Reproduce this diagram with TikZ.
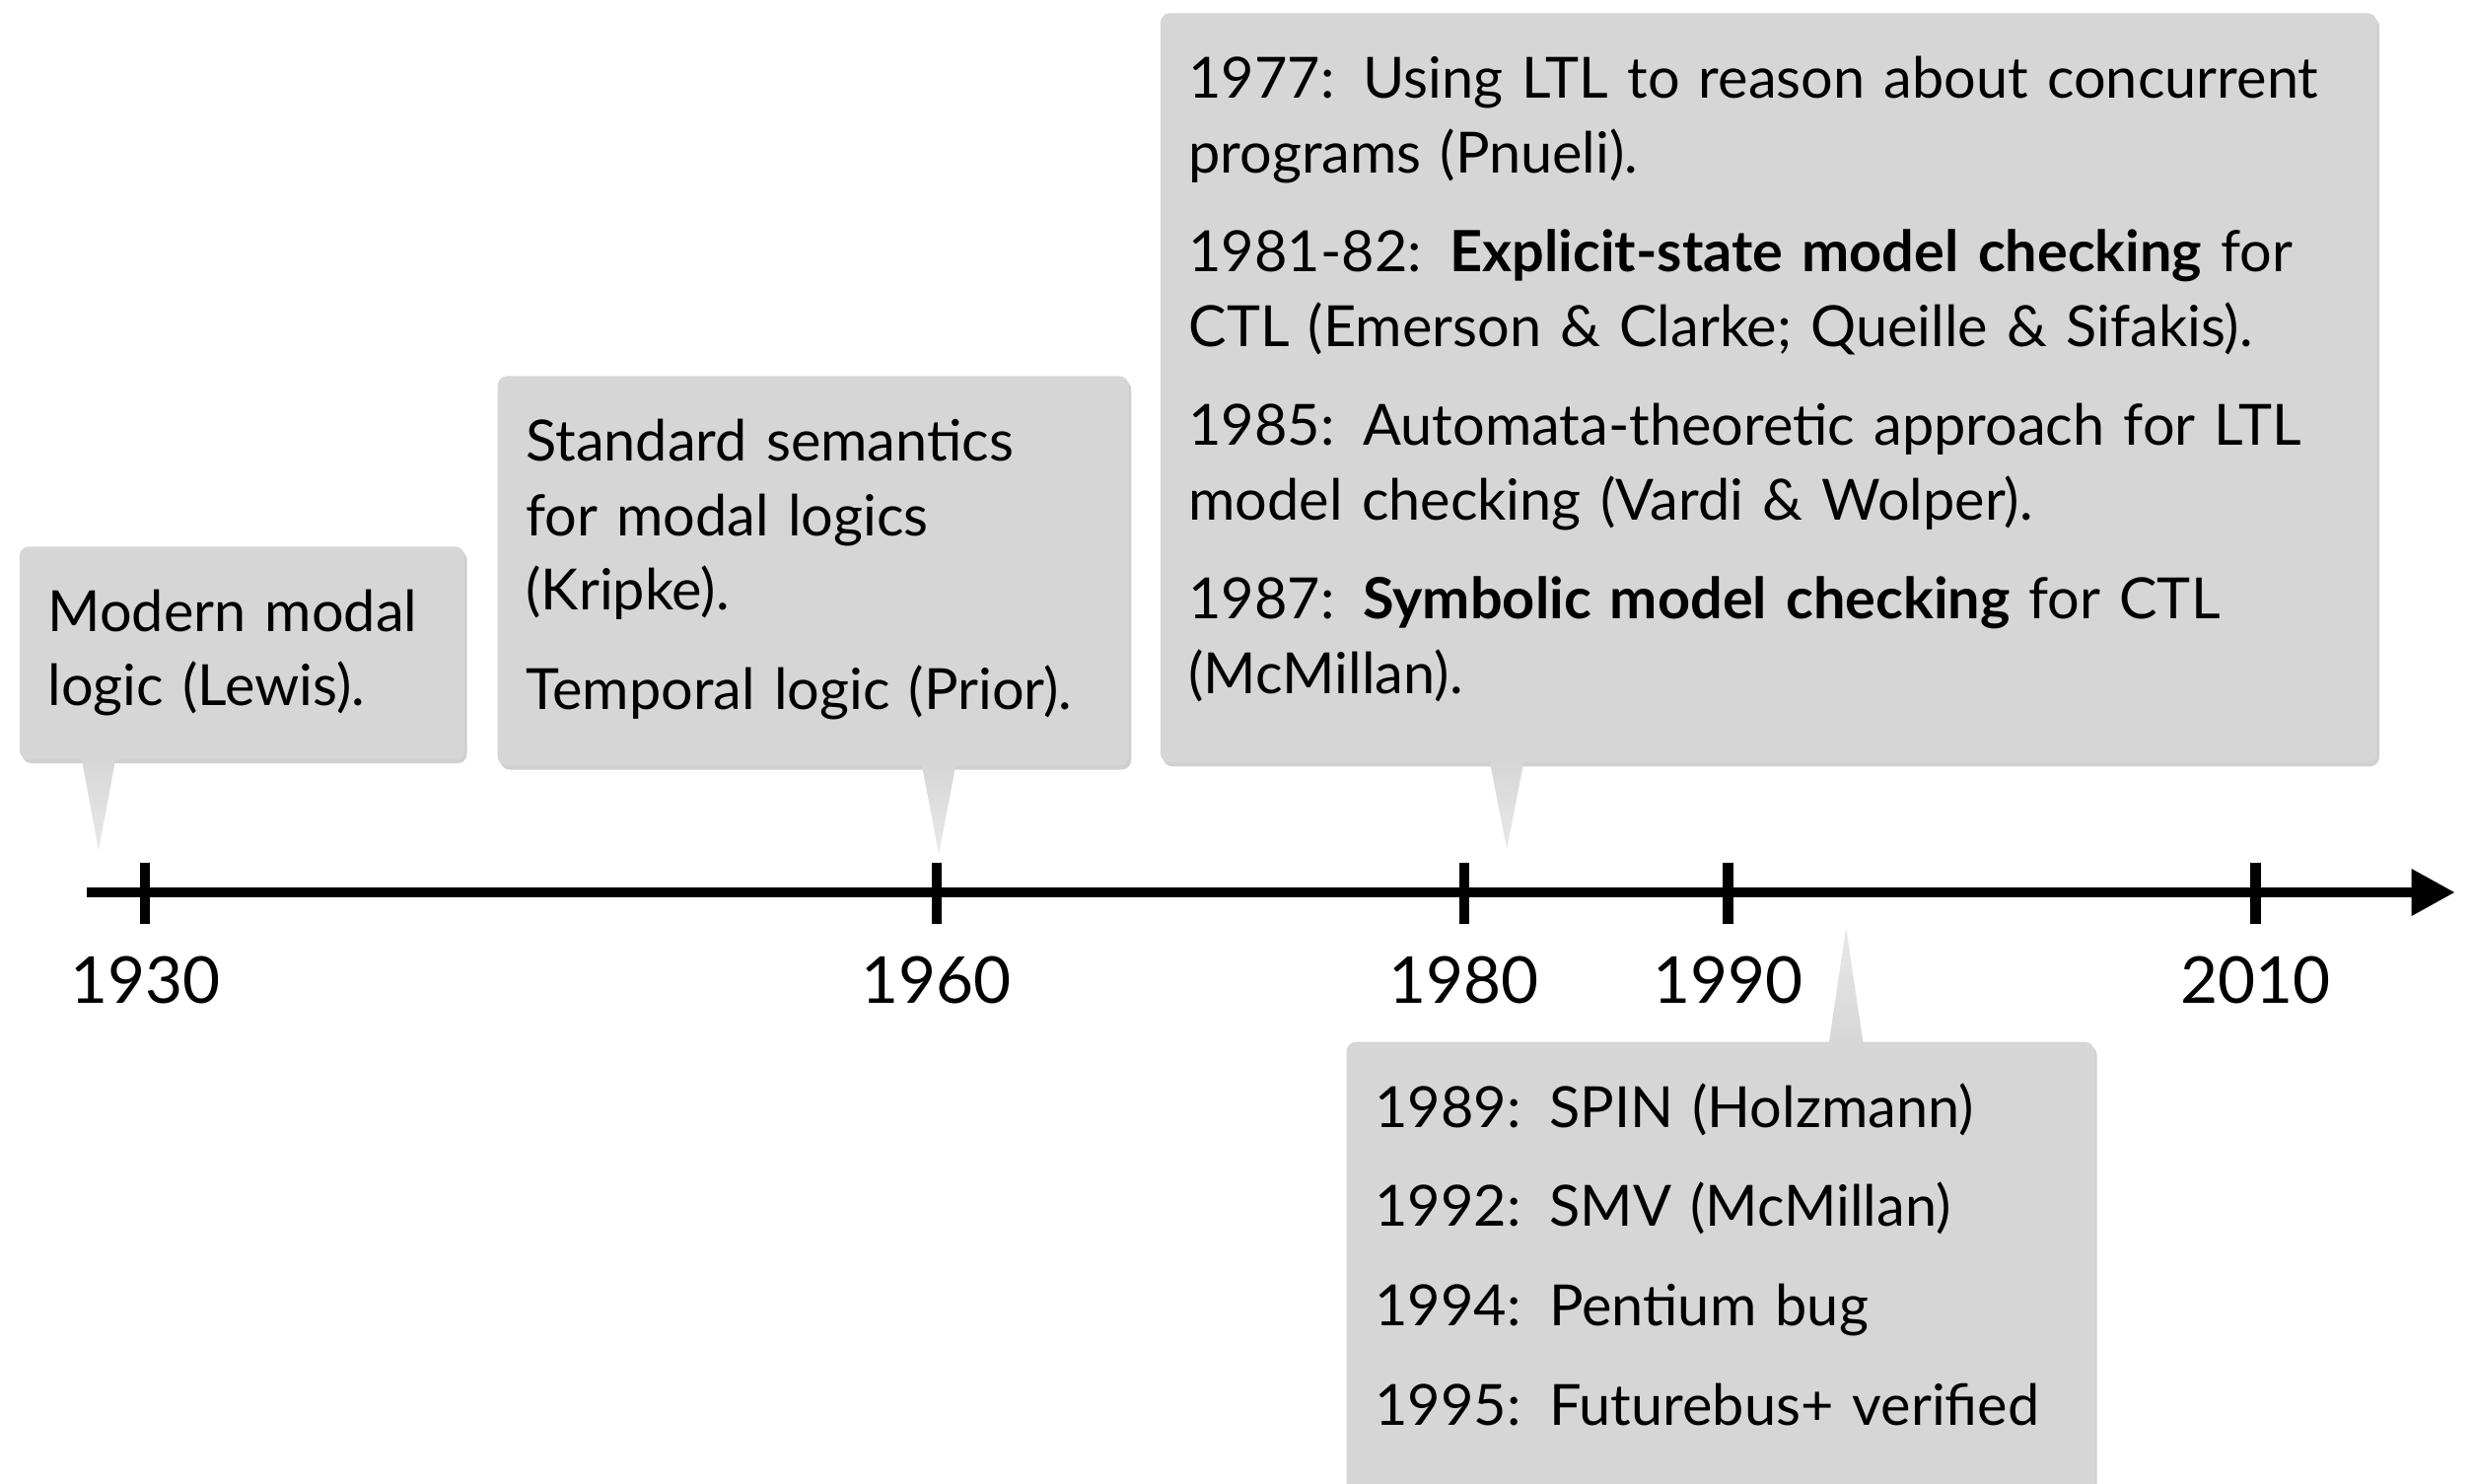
\documentclass[tikz,border=0pt]{standalone}
\usepackage{fontspec}
\setmainfont{Lato}
\usetikzlibrary{arrows.meta,positioning,calc,shadows}
\definecolor{bubblegray}{RGB}{214,214,214}
\tikzset{
  bubble/.style={
    rectangle,
    rounded corners=3pt,
    fill=bubblegray,
    drop shadow={shadow xshift=0.8pt, shadow yshift=-1.2pt, opacity=0.3, fill=black!60},
    anchor=north west,
    align=left,
    inner xsep=9pt,
    inner ysep=0pt,
    text height=27pt,
    font=\fontsize{18}{23.5}\selectfont
  },
  pointer/.style={
    top color=bubblegray,
    bottom color=bubblegray!55
  },
  uppointer/.style={
    top color=bubblegray!55,
    bottom color=bubblegray
  },
  axis/.style={
    -{Triangle[length=13.8pt, width=14pt]},
    line width=3.3pt,
    draw=black
  },
  tickmark/.style={
    line width=3.3pt,
    draw=black
  },
  year/.style={
    anchor=base,
    font=\fontsize{20.5}{24}\selectfont
  }
}

\begin{document}
\begin{tikzpicture}[x=0.5pt, y=0.5pt]
  \path[use as bounding box, fill=white] (0,0) rectangle (1568,940);

  % time axis
  \coordinate (start) at (55,374.4);
  \coordinate (end) at (1556,374.4);
  \draw[axis] (start) -- (end);
  \foreach \yr in {1930,1960,1980,1990,2010} {
    \coordinate (t\yr) at ({92+(\yr-1930)*16.72},374.4);
    \draw[tickmark] ($(t\yr)+(0,19)$) -- ($(t\yr)+(0,-20)$);
    \node[year] (y\yr) at ($(t\yr)+(0,-70.4)$) {\yr};
  }

  % callouts
  \node[bubble, text width=123pt, text depth=40.5pt] (lewis) at (12,594)
    {Modern modal\\logic (Lewis).};
  \node[bubble, text width=182pt, text depth=96.5pt] (kripke) at (315,702)
    {Standard semantics\\for modal logics\\(Kripke).\\[8pt]Temporal logic (Prior).};
  \node[bubble, text width=367.5pt, text depth=210.5pt] (mc) at (735,932)
    {1977:\enspace Using LTL to reason about concurrent\\programs (Pnueli).\\[8pt]
     1981-82:\enspace \textbf{Explicit-state model checking} for\\CTL (Emerson \& Clarke; Queille \& Sifakis).\\[8pt]
     1985: Automata-theoretic approach for LTL\\model checking (Vardi \& Wolper).\\[8pt]
     1987:\enspace \textbf{Symbolic model checking} for CTL\\(McMillan).};
  \node[bubble, text width=219pt, text depth=180pt] (tools) at (853,280)
    {1989:\enspace SPIN (Holzmann)\\[8pt]1992:\enspace SMV (McMillan)\\[8pt]1994:\enspace Pentium bug\\[8pt]1995:\enspace Futurebus+ verified};

  % pointers
  \coordinate (tipA) at (62.5,401);
  \coordinate (tipB) at (595,399);
  \coordinate (tipC) at (955,402);
  \coordinate (tipD) at (1170,352);
  \shade[pointer] ($(tipA |- lewis.south)+(-11,2)$) -- (tipA) -- ($(tipA |- lewis.south)+(11,2)$) -- cycle;
  \shade[pointer] ($(tipB |- kripke.south)+(-11,2)$) -- (tipB) -- ($(tipB |- kripke.south)+(11,2)$) -- cycle;
  \shade[pointer] ($(tipC |- mc.south)+(-11,2)$) -- (tipC) -- ($(tipC |- mc.south)+(11,2)$) -- cycle;
  \shade[uppointer] ($(tipD |- tools.north)+(-11,-2)$) -- (tipD) -- ($(tipD |- tools.north)+(11,-2)$) -- cycle;
\end{tikzpicture}
\end{document}
